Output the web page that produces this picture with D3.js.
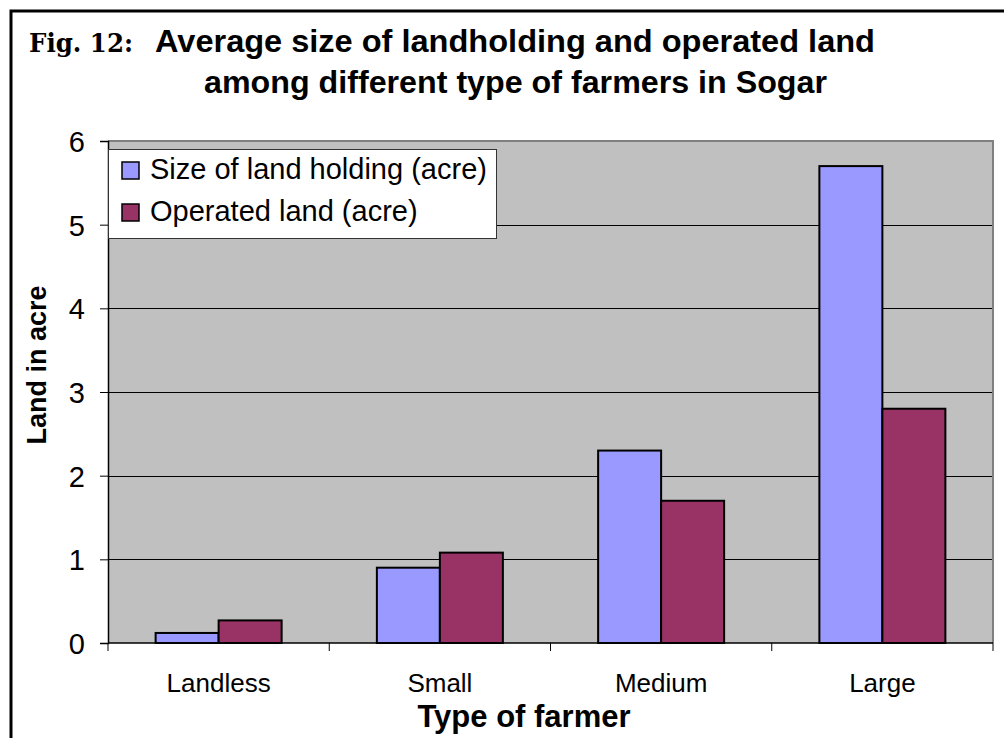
<!DOCTYPE html>
<html>
<head>
<meta charset="utf-8">
<script src="https://cdn.jsdelivr.net/npm/d3@7"></script>
<style>
  html, body { margin: 0; padding: 0; background: #fff; }
  svg { display: block; }
</style>
</head>
<body>
<svg id="chart" width="1004" height="738"></svg>
<script>
// Farmer categories and the two measured series (acres)
const categories = ["Landless", "Small", "Medium", "Large"];
const landHolding = [0.12, 0.9, 2.3, 5.7];
const operatedLand = [0.27, 1.08, 1.7, 2.8];
const seriesNames = ["Size of land holding (acre)", "Operated land (acre)"];
const yTicks = [0, 1, 2, 3, 4, 5, 6];

const colors = ["#9999FF", "#993366"];
const sans = "'Liberation Sans', Arial, sans-serif";
const svg = d3.select("#chart");

// Outer frame
svg.append("rect")
  .attr("x", 11).attr("y", 11).attr("width", 1100).attr("height", 800)
  .attr("fill", "none").attr("stroke", "#000").attr("stroke-width", 3);

// Title
svg.append("text").attr("x", 29).attr("y", 52)
  .attr("font-family", "'DejaVu Serif', serif").attr("font-size", 26).attr("font-weight", "bold")
  .attr("textLength", 104).attr("lengthAdjust", "spacingAndGlyphs")
  .text("Fig. 12:");
svg.append("text").attr("x", 155).attr("y", 52)
  .attr("font-family", sans).attr("font-size", 31).attr("font-weight", "bold")
  .attr("textLength", 720).attr("lengthAdjust", "spacingAndGlyphs")
  .text("Average size of landholding and operated land");
svg.append("text").attr("x", 204).attr("y", 93)
  .attr("font-family", sans).attr("font-size", 31).attr("font-weight", "bold")
  .attr("textLength", 623).attr("lengthAdjust", "spacingAndGlyphs")
  .text("among different type of farmers in Sogar");

// Plot geometry
const plotLeft = 108, plotRight = 993, plotTop = 141, plotBottom = 643;

const x = d3.scaleBand().domain(categories).range([plotLeft, plotRight]).paddingInner(0).paddingOuter(0);
const y = d3.scaleLinear().domain([0, 6]).range([plotBottom, plotTop]);
const barW = 63;
const sub = d3.scaleBand().domain([0, 1]).range([0, barW * 2]);

// Plot background
svg.append("rect").attr("x", plotLeft).attr("y", plotTop)
  .attr("width", plotRight - plotLeft).attr("height", plotBottom - plotTop).attr("fill", "#C0C0C0");

// Gridlines
svg.append("g").selectAll("line").data(yTicks.filter(d => d > 0 && d < 6)).join("line")
  .attr("x1", plotLeft).attr("x2", plotRight)
  .attr("y1", d => Math.round(y(d)) + 0.5).attr("y2", d => Math.round(y(d)) + 0.5)
  .attr("stroke", "#000").attr("stroke-width", 1);

// Plot top and right borders
svg.append("path")
  .attr("d", `M${plotLeft},${plotTop} H${plotRight} V${plotBottom}`)
  .attr("fill", "none").attr("stroke", "#808080").attr("stroke-width", 2);

// Bars
const data = categories.map((c, i) => ({ c, v: [landHolding[i], operatedLand[i]] }));
const groups = svg.append("g").selectAll("g").data(data).join("g")
  .attr("transform", d => `translate(${x(d.c) + x.bandwidth() / 2 - barW},0)`);
groups.selectAll("rect").data(d => d.v.map((v, k) => ({ v, k }))).join("rect")
  .attr("x", d => sub(d.k))
  .attr("y", d => y(d.v))
  .attr("width", sub.bandwidth())
  .attr("height", d => y(0) - y(d.v))
  .attr("fill", d => colors[d.k])
  .attr("stroke", "#000").attr("stroke-width", 2);

// Y axis
const yAxis = svg.append("g").attr("transform", `translate(${plotLeft},0)`)
  .call(d3.axisLeft(y).tickValues(yTicks).tickSize(8).tickPadding(15).tickFormat(d3.format("d")));
yAxis.select(".domain").attr("stroke", "#000").attr("stroke-width", 1.5);
yAxis.selectAll("text").attr("font-family", sans)
  .attr("font-size", 29).attr("fill", "#000").attr("dy", "0.36em");

// X axis
const xAxis = svg.append("g").attr("transform", `translate(0,${plotBottom})`)
  .call(d3.axisBottom(x).tickSize(0).tickPadding(30));
xAxis.select(".domain").attr("stroke", "#000").attr("stroke-width", 1.5)
  .attr("d", `M${plotLeft},0 H${plotRight}`);
xAxis.selectAll("text").attr("font-family", sans)
  .attr("font-size", 26).attr("fill", "#000").attr("dy", 0).attr("y", 49);
// Category separator ticks
svg.append("g").selectAll("line").data(categories.concat(["end"])).join("line")
  .attr("x1", (d, i) => plotLeft + i * x.bandwidth()).attr("x2", (d, i) => plotLeft + i * x.bandwidth())
  .attr("y1", plotBottom).attr("y2", plotBottom + 8)
  .attr("stroke", "#000").attr("stroke-width", 1);

// Axis titles
svg.append("text")
  .attr("transform", `translate(46,365) rotate(-90)`)
  .attr("text-anchor", "middle")
  .attr("font-family", sans)
  .attr("font-size", 27).attr("font-weight", "bold").text("Land in acre");
svg.append("text").attr("x", 524).attr("y", 727).attr("text-anchor", "middle")
  .attr("font-family", sans)
  .attr("font-size", 31).attr("font-weight", "bold").text("Type of farmer");

// Legend
const legend = svg.append("g");
legend.append("rect").attr("x", 108.5).attr("y", 149.5).attr("width", 388).attr("height", 89)
  .attr("fill", "#fff").attr("stroke", "#333").attr("stroke-width", 1);
const items = legend.selectAll("g").data(seriesNames).join("g")
  .attr("transform", (d, i) => `translate(0,${i * 42})`);
items.append("rect").attr("x", 122).attr("y", 162).attr("width", 17).attr("height", 17)
  .attr("fill", (d, i) => colors[i]).attr("stroke", "#000").attr("stroke-width", 1.5);
items.append("text").attr("x", 150).attr("y", 179)
  .attr("font-family", sans)
  .attr("font-size", 29).text(d => d);
</script>
</body>
</html>
